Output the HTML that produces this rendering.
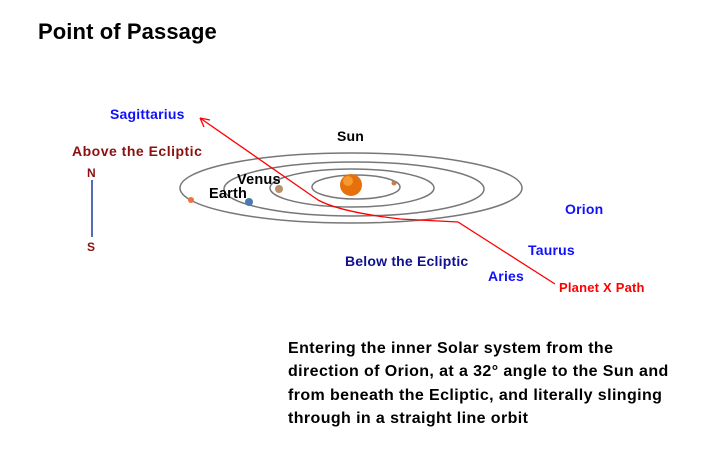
<!DOCTYPE html>
<html><head><style>
body{margin:0;width:721px;height:454px;background:#fff;overflow:hidden;font-family:"Liberation Sans",Arial,sans-serif;}
</style></head><body>
<svg width="721" height="454" xmlns="http://www.w3.org/2000/svg" style="position:absolute;left:0;top:0">
<text x="38" y="39" font-size="22" font-weight="bold" fill="#000" letter-spacing="0.1">Point of Passage</text>
<g fill="none" stroke="#777" stroke-width="1.5">
<ellipse cx="351" cy="188" rx="171" ry="35"/>
<ellipse cx="354" cy="189" rx="130" ry="27"/>
<ellipse cx="352" cy="188" rx="82" ry="19"/>
<ellipse cx="356" cy="187" rx="44" ry="12"/>
</g>
<circle cx="351" cy="185" r="11" fill="#e8700a"/>
<circle cx="348" cy="181" r="5" fill="#f59a30"/>
<circle cx="394" cy="183" r="2.5" fill="#c87a50"/>
<circle cx="279" cy="189" r="4" fill="#b8906a"/>
<circle cx="249" cy="202" r="4" fill="#4a7ab0"/>
<circle cx="191" cy="200" r="3" fill="#f07040"/>
<path d="M555 284 L458 222 L400 219 Q340 212 318 200 L200 118" fill="none" stroke="#f00" stroke-width="1.3"/>
<path d="M200 118 L210 120 M200 118 L204 127" stroke="#f00" stroke-width="1.3" fill="none"/>
<line x1="92" y1="180" x2="92" y2="237" stroke="#1a3aa0" stroke-width="1.5"/>
<g font-weight="bold" font-size="14" letter-spacing="0.2">
<text x="110" y="119" fill="#1010ff">Sagittarius</text>
<text x="337" y="141" fill="#000">Sun</text>
<text x="72" y="156" fill="#8b1010" letter-spacing="0.5">Above the Ecliptic</text>
<text x="87" y="177" fill="#8b1010" font-size="12">N</text>
<text x="87" y="251" fill="#8b1010" font-size="12">S</text>
<text x="237" y="184" fill="#000" font-size="14.5">Venus</text>
<text x="209" y="198" fill="#000" font-size="14.5">Earth</text>
<text x="565" y="214" fill="#1010ff">Orion</text>
<text x="528" y="255" fill="#1010ff">Taurus</text>
<text x="345" y="266" fill="#101090">Below the Ecliptic</text>
<text x="488" y="281" fill="#1010ff">Aries</text>
<text x="559" y="292" fill="#f00" font-size="13">Planet X Path</text>
</g>
<g font-weight="bold" font-size="16" fill="#000" letter-spacing="0.4">
<text x="288" y="353">Entering the inner Solar system from the</text>
<text x="288" y="376">direction of Orion, at a 32° angle to the Sun and</text>
<text x="288" y="400">from beneath the Ecliptic, and literally slinging</text>
<text x="288" y="423">through in a straight line orbit</text>
</g>
</svg>
</body></html>
